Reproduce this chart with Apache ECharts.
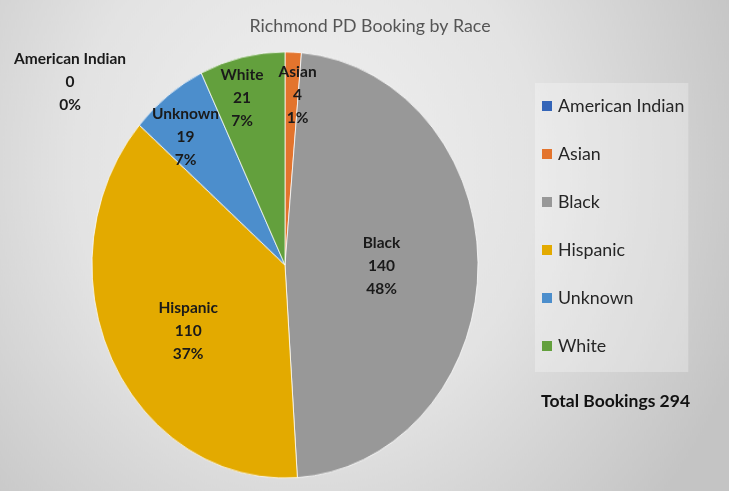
<!DOCTYPE html>
<html>
<head>
<meta charset="utf-8">
<script src="https://cdn.jsdelivr.net/npm/echarts@6/dist/echarts.min.js"></script>
<style>
  html, body { margin: 0; padding: 0; width: 729px; height: 491px; overflow: hidden; }
  #pie, #over { position: absolute; left: 0; top: 0; width: 729px; height: 491px; }
  #pie { transform-origin: 285px 265px; transform: scaleY(1.104); }
</style>
</head>
<body>
<div id="pie"></div>
<div id="over"></div>
<script>
// ---- data ----
const chartTitle = 'Richmond PD Booking by Race';
const categories = ['American Indian', 'Asian', 'Black', 'Hispanic', 'Unknown', 'White'];
const bookings = [0, 4, 140, 110, 19, 21];
const totalLabel = 'Total Bookings';

// ---- styles ----
const colors = ['#3465B8', '#E3742D', '#989898', '#E3AA00', '#4C8ECC', '#63A03D'];
const labelRadial = [null, 0.80, 0.50, 0.60, 0.79, 0.815]; // radial factor for label placement
const labelNudge = [[0, 0], [6, 0], [0, 0], [7, 9], [-7, 6], [-8, 2]];
const zeroLabelPos = [70, 82];
const CX = 285, CY = 265, RX = 193, RY = 213;

const total = bookings.reduce((a, b) => a + b, 0);
const seriesData = categories.map((c, i) => ({ name: c, value: bookings[i], itemStyle: { color: colors[i] } }));

// mid angles (clockwise from 12 o'clock)
const midAngles = [];
let acc = 0;
bookings.forEach(v => { midAngles.push((acc + v / 2) / total * 2 * Math.PI); acc += v; });

// background + pie (stretched vertically to an ellipse)
const pie = echarts.init(document.getElementById('pie'));
pie.setOption({
  backgroundColor: {
    type: 'radial', x: 0.42, y: 0.36, r: 0.95,
    colorStops: [
      { offset: 0, color: '#f1f1f1' },
      { offset: 0.5, color: '#e3e3e3' },
      { offset: 1, color: '#c4c4c4' }
    ]
  },
  animation: false,
  series: [{
    type: 'pie',
    center: [CX, CY],
    radius: RX,
    startAngle: 90,
    clockwise: true,
    silent: true,
    label: { show: false },
    labelLine: { show: false },
    itemStyle: { borderColor: 'rgba(255,255,255,0.75)', borderWidth: 1 },
    data: seriesData
  }]
});

// overlay: title, legend, labels, total
const over = echarts.init(document.getElementById('over'));
over.setOption({
  animation: false,
  color: colors,
  title: [{
    text: chartTitle,
    left: 365, top: 12, textAlign: 'center',
    textStyle: { fontFamily: 'Lato', fontWeight: 'normal', fontSize: 17.8, color: '#555' }
  }, {
    text: totalLabel + ' ' + total,
    left: 541, top: 392, padding: 0,
    textStyle: { fontFamily: 'Lato', fontWeight: 'bold', fontSize: 17.5, color: '#111' }
  }],
  legend: {
    orient: 'vertical',
    left: 535, top: 83,
    padding: [13, 4, 16, 7],
    backgroundColor: 'rgba(255,255,255,0.28)',
    itemWidth: 10, itemHeight: 10, itemGap: 28,
    icon: 'rect',
    selectedMode: false,
    data: categories.map((c, i) => ({ name: c, itemStyle: { color: colors[i], opacity: 1 } })),
    textStyle: { fontFamily: 'Lato', fontSize: 17.8, color: '#262626', lineHeight: 20, padding: [0, 0, 0, 1] }
  },
  series: [{
    type: 'pie',
    center: [CX, CY],
    radius: RX,
    startAngle: 90,
    clockwise: true,
    silent: true,
    percentPrecision: 0,
    itemStyle: { opacity: 0 },
    emphasis: { disabled: true },
    labelLine: { show: false },
    label: {
      show: true,
      position: 'inside',
      formatter: '{b}\n{c}\n{d}%',
      fontFamily: 'Lato', fontWeight: 'bold', fontSize: 15.5, lineHeight: 23,
      color: '#1a1a1a', align: 'center', opacity: 1
    },
    labelLayout: function (p) {
      const i = p.dataIndex;
      if (bookings[i] === 0) {
        return { x: zeroLabelPos[0], y: zeroLabelPos[1], align: 'center', verticalAlign: 'middle' };
      }
      const a = midAngles[i], f = labelRadial[i];
      return {
        x: CX + f * RX * Math.sin(a) + labelNudge[i][0],
        y: CY - f * RY * Math.cos(a) + labelNudge[i][1],
        align: 'center', verticalAlign: 'middle'
      };
    },
    data: seriesData
  }]
});
</script>
</body>
</html>
